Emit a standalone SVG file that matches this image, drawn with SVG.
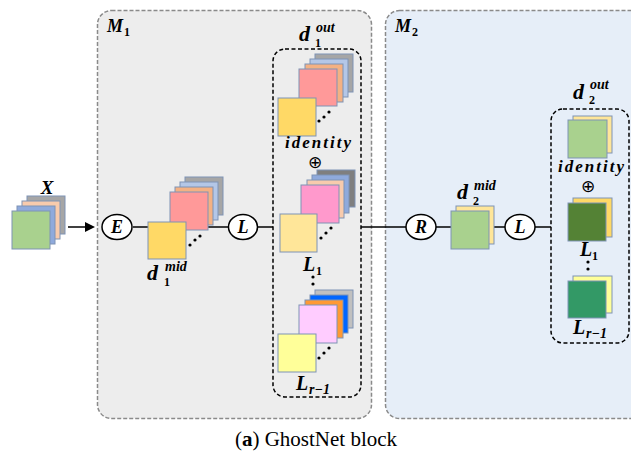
<svg xmlns="http://www.w3.org/2000/svg" width="631" height="456" viewBox="0 0 631 456">
<style>
.sq{stroke:#7f93b5;stroke-width:1}
.m{font-family:"Liberation Serif",serif;font-weight:bold;font-style:italic;fill:#000}
.s{font-family:"Liberation Serif",serif;font-weight:bold;fill:#000;font-size:12px}
.cir{fill:#fff;stroke:#000;stroke-width:1.5}
.ln{stroke:#000;stroke-width:1.5;fill:none}
.dot{fill:#000}
.op{font-family:"DejaVu Sans",sans-serif;font-size:17px;fill:#000}
</style>
<defs>
<marker id="ah" markerWidth="10" markerHeight="10" refX="8" refY="5" orient="auto" markerUnits="userSpaceOnUse">
<path d="M0,0 L10,5 L0,10 Z" fill="#000"/>
</marker>
</defs>
<rect width="631" height="456" fill="#fff"/>
<g id="M1">
<rect x="97.5" y="10.5" width="274" height="408" rx="14" fill="#ededed" stroke="#8a8a8a" stroke-width="1.5" stroke-dasharray="4,2"/>
<text class="m" x="107" y="32" font-size="18">M</text>
<text class="s" x="124" y="36" font-size="14">1</text>
</g>
<g id="M2">
<rect x="385.5" y="10.5" width="260" height="408" rx="14" fill="#e6eef8" stroke="#8a8a8a" stroke-width="1.5" stroke-dasharray="4,2"/>
<text class="m" x="395" y="32" font-size="18">M</text>
<text class="s" x="412" y="36" font-size="14">2</text>
</g>
<g id="connectors">
<line class="ln" x1="68" y1="227" x2="93" y2="227" stroke-width="3" marker-end="url(#ah)"/>
<line class="ln" x1="133" y1="227" x2="229" y2="227"/>
<line class="ln" x1="258" y1="227" x2="273" y2="227"/>
<line class="ln" x1="361" y1="227" x2="406" y2="227"/>
<line class="ln" x1="436" y1="227" x2="451" y2="227"/>
<line class="ln" x1="494" y1="227" x2="505" y2="227"/>
<line class="ln" x1="535" y1="227" x2="551" y2="227"/>
</g>
<g id="X">
<rect class="sq" x="27" y="196" width="38" height="38" fill="#a6a6a6"/>
<rect class="sq" x="22" y="201" width="38" height="38" fill="#f8cbad"/>
<rect class="sq" x="17" y="206" width="38" height="38" fill="#8faadc"/>
<rect class="sq" x="12" y="211" width="38" height="38" fill="#a9d18e"/>
<text class="m" x="47" y="194" font-size="19" text-anchor="middle">X</text>
</g>
<g id="E">
<ellipse class="cir" cx="117" cy="227" rx="15" ry="12.5"/>
<text class="m" x="117" y="233" font-size="18" text-anchor="middle">E</text>
</g>
<g id="d1mid">
<rect class="sq" x="185" y="177" width="38" height="38" fill="#a6a6a6"/>
<rect class="sq" x="180" y="182" width="38" height="38" fill="#b4c7e7"/>
<rect class="sq" x="175" y="187" width="38" height="38" fill="#f4b183"/>
<rect class="sq" x="170" y="192" width="38" height="38" fill="#ff9999"/>
<rect class="sq" x="148" y="222" width="38" height="37" fill="#ffd966"/>
<circle class="dot" cx="190" cy="245" r="1.6"/><circle class="dot" cx="195" cy="240" r="1.6"/><circle class="dot" cx="200" cy="236" r="1.6"/>
<text class="m" x="147" y="280" font-size="22">d</text>
<text class="m" x="165" y="271" font-size="14">mid</text>
<text class="s" x="164" y="286">1</text>
</g>
<g id="L">
<ellipse class="cir" cx="243" cy="227" rx="14.5" ry="12.5"/>
<text class="m" x="243" y="233" font-size="18" text-anchor="middle">L</text>
</g>
<g id="d1out">
<rect x="273" y="49" width="88" height="348" rx="12" fill="none" stroke="#000" stroke-width="1.5" stroke-dasharray="4,2.5"/>
<text class="m" x="299" y="41" font-size="22">d</text>
<text class="m" x="316" y="32" font-size="14">out</text>
<text class="s" x="315" y="47">1</text>
<rect class="sq" x="315" y="54" width="38" height="38" fill="#a6a6a6"/>
<rect class="sq" x="310" y="59" width="38" height="38" fill="#b4c7e7"/>
<rect class="sq" x="305" y="64" width="38" height="38" fill="#f4b183"/>
<rect class="sq" x="299" y="69" width="38" height="37" fill="#ff9999"/>
<rect class="sq" x="278" y="98" width="38" height="38" fill="#ffd966"/>
<circle class="dot" cx="319" cy="121" r="1.6"/><circle class="dot" cx="324" cy="117" r="1.6"/><circle class="dot" cx="329" cy="112" r="1.6"/>
<text class="m" x="318" y="148" font-size="17" text-anchor="middle" textLength="66" lengthAdjust="spacing">identity</text>
<text class="op" x="315" y="168" text-anchor="middle">⊕</text>
<rect class="sq" x="317" y="170" width="38" height="37" fill="#7f7f7f"/>
<rect class="sq" x="312" y="175" width="37" height="38" fill="#8faadc"/>
<rect class="sq" x="307" y="180" width="37" height="38" fill="#f8cbad"/>
<rect class="sq" x="301" y="185" width="38" height="38" fill="#ff99cc"/>
<rect class="sq" x="280" y="214" width="37" height="38" fill="#ffe699"/>
<circle class="dot" cx="321" cy="238" r="1.6"/><circle class="dot" cx="326" cy="233" r="1.6"/><circle class="dot" cx="331" cy="228" r="1.6"/>
<text class="m" x="303" y="271" font-size="20">L</text>
<text class="s" x="316" y="275" font-size="13">1</text>
<circle class="dot" cx="313" cy="277" r="1.6"/><circle class="dot" cx="313" cy="284" r="1.6"/>
<rect class="sq" x="315" y="290" width="38" height="38" fill="#c0c0c0"/>
<rect class="sq" x="310" y="295" width="38" height="38" fill="#0066ff"/>
<rect class="sq" x="305" y="300" width="38" height="38" fill="#ff9933"/>
<rect class="sq" x="299" y="305" width="38" height="38" fill="#ffccff"/>
<rect class="sq" x="278" y="334" width="38" height="38" fill="#ffff99"/>
<circle class="dot" cx="319" cy="358" r="1.6"/><circle class="dot" cx="324" cy="353" r="1.6"/><circle class="dot" cx="329" cy="348" r="1.6"/>
<text class="m" x="296" y="390" font-size="20">L</text>
<text class="m" x="309" y="394" font-size="14">r−1</text>
</g>
<g id="R">
<ellipse class="cir" cx="421" cy="227" rx="15" ry="12.5"/>
<text class="m" x="421" y="233" font-size="18" text-anchor="middle">R</text>
</g>
<g id="d2mid">
<rect class="sq" x="456" y="206" width="38" height="38" fill="#ffe699"/>
<rect class="sq" x="451" y="211" width="38" height="38" fill="#a9d18e"/>
<text class="m" x="457" y="199" font-size="22">d</text>
<text class="m" x="474" y="190" font-size="14">mid</text>
<text class="s" x="473" y="205">2</text>
</g>
<g id="L2">
<ellipse class="cir" cx="520" cy="227" rx="15" ry="12.5"/>
<text class="m" x="520" y="233" font-size="18" text-anchor="middle">L</text>
</g>
<g id="d2out">
<rect x="551" y="109" width="78" height="234" rx="12" fill="none" stroke="#000" stroke-width="1.5" stroke-dasharray="4,2.5"/>
<text class="m" x="573" y="99" font-size="22">d</text>
<text class="m" x="590" y="89" font-size="14">out</text>
<text class="s" x="589" y="104">2</text>
<rect class="sq" x="573" y="116" width="39" height="37" fill="#ffe699"/>
<rect class="sq" x="568" y="120" width="39" height="38" fill="#a9d18e"/>
<text class="m" x="591" y="172" font-size="17" text-anchor="middle" textLength="66" lengthAdjust="spacing">identity</text>
<text class="op" x="588" y="192" text-anchor="middle">⊕</text>
<rect class="sq" x="573" y="198" width="39" height="39" fill="#ffd966"/>
<rect class="sq" x="568" y="203" width="38" height="38" fill="#548235"/>
<text class="m" x="580" y="256" font-size="20">L</text>
<text class="s" x="592" y="260" font-size="13">1</text>
<circle class="dot" cx="588" cy="262" r="1.6"/><circle class="dot" cx="588" cy="269" r="1.6"/>
<rect class="sq" x="573" y="276" width="39" height="37" fill="#ffff99"/>
<rect class="sq" x="568" y="281" width="38" height="37" fill="#339966"/>
<text class="m" x="573" y="334" font-size="20">L</text>
<text class="m" x="586" y="338" font-size="14">r−1</text>
</g>
<g id="caption">
<text x="316" y="446" font-family="Liberation Serif,serif" font-size="21" text-anchor="middle">(<tspan font-weight="bold">a</tspan>) GhostNet block</text>
</g>
</svg>
